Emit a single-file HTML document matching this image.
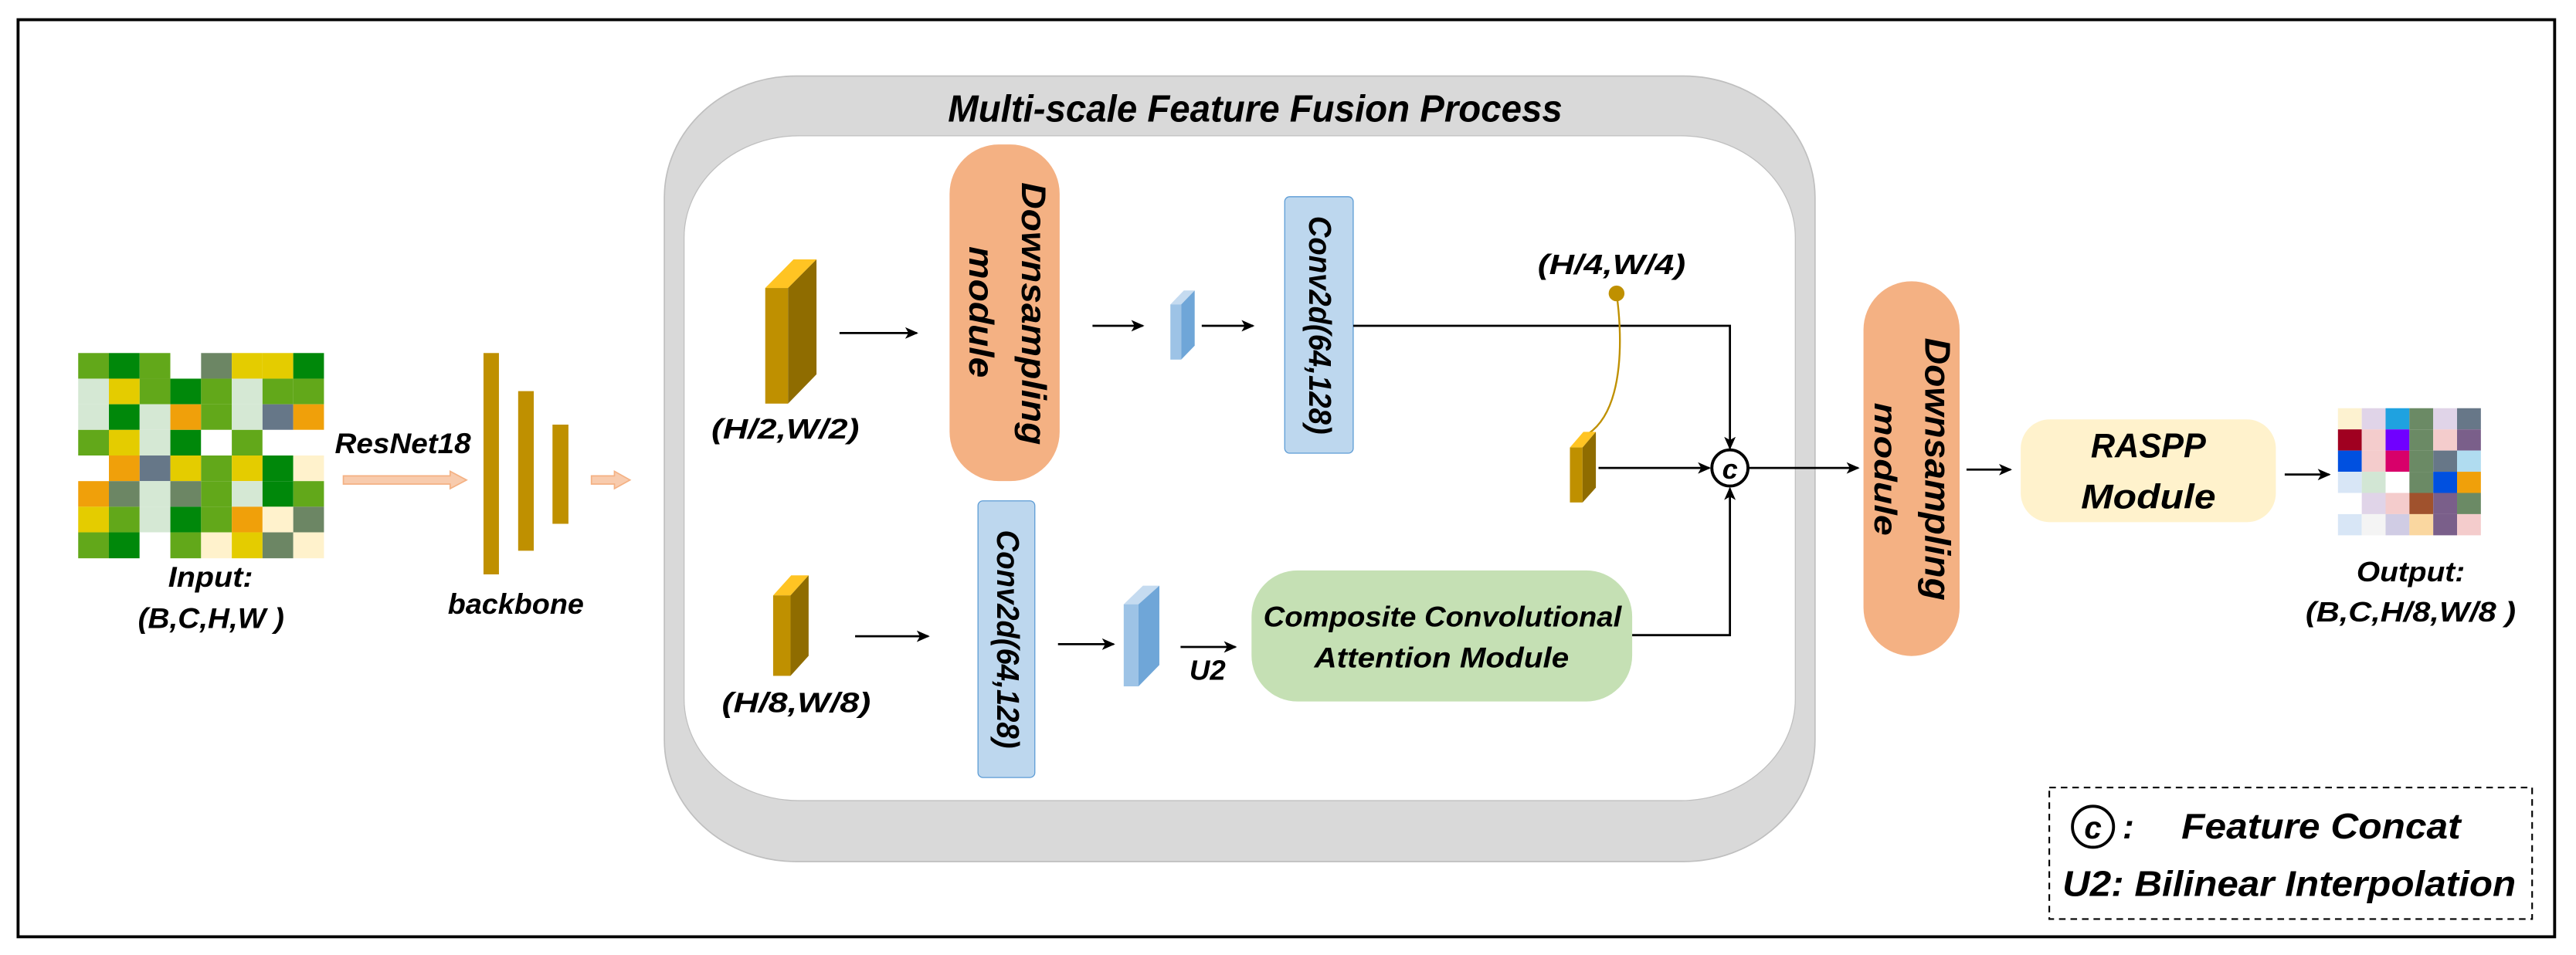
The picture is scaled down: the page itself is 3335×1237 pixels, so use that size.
<!DOCTYPE html>
<html><head><meta charset="utf-8"><style>
html,body{margin:0;padding:0;background:#fff;}
svg{display:block;}
text{font-family:"Liberation Sans",sans-serif;font-weight:bold;font-style:italic;fill:#000;}
</style></head><body>
<svg width="3335" height="1237" viewBox="0 0 1568 581.6" preserveAspectRatio="none" xmlns="http://www.w3.org/2000/svg">
<defs>
<marker id="ah" markerWidth="8" markerHeight="8" refX="7" refY="4" orient="auto" markerUnits="userSpaceOnUse">
<path d="M0,0.5 L8,4 L0,7.5 L2,4 Z" fill="#000"/></marker>
</defs>
<rect width="1568" height="581.6" fill="#fff"/>
<rect x="11" y="12" width="1544" height="558.5" fill="none" stroke="#000" stroke-width="1.8"/>

<!-- input grid -->
<g id="grid"></g>
<g transform="translate(47.6,215)">
<!-- rows -->
<g id="ig"></g>
</g>

<!-- gray box -->
<rect x="404.4" y="46.3" width="700.4" height="478.4" rx="80" ry="74" fill="#d9d9d9" stroke="#bfbfbf" stroke-width="0.8"/>
<rect x="416.4" y="82.7" width="676.4" height="404.9" rx="70" ry="62" fill="#fff" stroke="#bfbfbf" stroke-width="0.6"/>
<text x="577" y="74" font-size="23" textLength="374" lengthAdjust="spacingAndGlyphs">Multi-scale Feature Fusion Process</text>

<!-- H/2 cube -->
<polygon points="465.8,175.4 483,158 497,158 479.7,175.4" fill="#ffc423"/>
<rect x="465.8" y="175.4" width="13.9" height="70.4" fill="#bf9000"/>
<polygon points="479.7,175.4 497,158 497,228 479.7,245.8" fill="#8f6c00"/>
<text x="433" y="267" font-size="17" textLength="90" lengthAdjust="spacingAndGlyphs">(H/2,W/2)</text>
<line x1="511" y1="202.8" x2="558" y2="202.8" stroke="#000" stroke-width="1.3" marker-end="url(#ah)"/>

<!-- Downsampling 1 -->
<rect x="578" y="88" width="67" height="205" rx="30" fill="#f4b183"/>
<text transform="translate(622,191) rotate(90)" font-size="21" text-anchor="middle" textLength="160" lengthAdjust="spacingAndGlyphs">Downsampling</text>
<text transform="translate(590,190) rotate(90)" font-size="21" text-anchor="middle" textLength="80" lengthAdjust="spacingAndGlyphs">module</text>

<line x1="665" y1="198.4" x2="695.6" y2="198.4" stroke="#000" stroke-width="1.3" marker-end="url(#ah)"/>
<polygon points="712.4,185.4 720.6,176.9 727.2,176.9 719,185.4" fill="#c5dbf0"/>
<rect x="712.4" y="185.4" width="6.6" height="33.6" fill="#9dc3e6"/>
<polygon points="719,185.4 727.2,176.9 727.2,210.5 719,219" fill="#6fa6d8"/>
<line x1="731.5" y1="198.4" x2="762.7" y2="198.4" stroke="#000" stroke-width="1.3" marker-end="url(#ah)"/>

<!-- Conv top -->
<rect x="782" y="119.8" width="41.7" height="156.2" rx="3" fill="#bdd7ee" stroke="#5b9bd5" stroke-width="0.6"/>
<text transform="translate(797,198) rotate(90)" font-size="19" text-anchor="middle" textLength="133" lengthAdjust="spacingAndGlyphs">Conv2d(64,128)</text>

<polyline points="823.7,198.4 1053,198.4 1053,273" fill="none" stroke="#000" stroke-width="1.3" marker-end="url(#ah)"/>
<text x="936" y="166.9" font-size="17" textLength="90" lengthAdjust="spacingAndGlyphs">(H/4,W/4)</text>
<circle cx="984" cy="178.7" r="4.8" fill="#bf9000"/>
<path d="M984,179 C987,200 990,248 967,264" fill="none" stroke="#bf9000" stroke-width="1.1"/>
<polygon points="955.6,272.5 963.8,263 971.4,263 963.3,272.5" fill="#ffc423"/>
<rect x="955.6" y="272.5" width="7.7" height="33.5" fill="#bf9000"/>
<polygon points="963.3,272.5 971.4,263 971.4,297 963.3,306" fill="#8f6c00"/>
<line x1="973" y1="285" x2="1040.5" y2="285" stroke="#000" stroke-width="1.3" marker-end="url(#ah)"/>
<circle cx="1053" cy="285" r="11" fill="#fff" stroke="#000" stroke-width="1.8"/>
<text x="1053" y="291.5" font-size="17" text-anchor="middle">c</text>
<line x1="1064" y1="285" x2="1131" y2="285" stroke="#000" stroke-width="1.3" marker-end="url(#ah)"/>

<!-- lower -->
<polygon points="470.6,362.6 481.6,350.4 492.2,350.4 481.2,362.6" fill="#ffc423"/>
<rect x="470.6" y="362.6" width="10.6" height="49" fill="#bf9000"/>
<polygon points="481.2,362.6 492.2,350.4 492.2,399.4 481.2,411.6" fill="#8f6c00"/>
<text x="439.4" y="433.8" font-size="17" textLength="90.6" lengthAdjust="spacingAndGlyphs">(H/8,W/8)</text>
<line x1="520.5" y1="387.5" x2="565" y2="387.5" stroke="#000" stroke-width="1.3" marker-end="url(#ah)"/>
<rect x="595.3" y="305" width="34.6" height="168.5" rx="3" fill="#bdd7ee" stroke="#5b9bd5" stroke-width="0.6"/>
<text transform="translate(607,389.3) rotate(90)" font-size="19" text-anchor="middle" textLength="133" lengthAdjust="spacingAndGlyphs">Conv2d(64,128)</text>
<line x1="644" y1="392.3" x2="677.8" y2="392.3" stroke="#000" stroke-width="1.3" marker-end="url(#ah)"/>
<polygon points="684,368 695.7,356.7 705.7,356.7 693,368" fill="#c5dbf0"/>
<rect x="684" y="368" width="9" height="50" fill="#9dc3e6"/>
<polygon points="693,368 705.7,356.7 705.7,405 693,418" fill="#6fa6d8"/>
<line x1="718.6" y1="394" x2="752" y2="394" stroke="#000" stroke-width="1.3" marker-end="url(#ah)"/>
<text x="724" y="414" font-size="17" textLength="22" lengthAdjust="spacingAndGlyphs">U2</text>
<rect x="761.8" y="347.4" width="231.7" height="79.8" rx="28" fill="#c5e0b4"/>
<text x="769" y="381.5" font-size="17.5" textLength="218" lengthAdjust="spacingAndGlyphs">Composite Convolutional</text>
<text x="800" y="406.4" font-size="17.5" textLength="155" lengthAdjust="spacingAndGlyphs">Attention Module</text>
<polyline points="993.5,386.8 1053,386.8 1053,297.5" fill="none" stroke="#000" stroke-width="1.3" marker-end="url(#ah)"/>

<!-- Downsampling 2 -->
<rect x="1134.3" y="171.3" width="58.5" height="228.2" rx="29.5" fill="#f4b183"/>
<text transform="translate(1172,285.7) rotate(90)" font-size="22" text-anchor="middle" textLength="160" lengthAdjust="spacingAndGlyphs">Downsampling</text>
<text transform="translate(1141,285.7) rotate(90)" font-size="19" text-anchor="middle" textLength="81" lengthAdjust="spacingAndGlyphs">module</text>
<line x1="1197" y1="286" x2="1223.8" y2="286" stroke="#000" stroke-width="1.3" marker-end="url(#ah)"/>

<rect x="1230" y="255.4" width="155.3" height="62.6" rx="17.7" fill="#fff2cc"/>
<text x="1307.7" y="278.5" font-size="21" text-anchor="middle" textLength="70" lengthAdjust="spacingAndGlyphs">RASPP</text>
<text x="1307.7" y="309.5" font-size="21" text-anchor="middle" textLength="82" lengthAdjust="spacingAndGlyphs">Module</text>
<line x1="1390.7" y1="289" x2="1417.8" y2="289" stroke="#000" stroke-width="1.3" marker-end="url(#ah)"/>

<!-- output grid -->
<g transform="translate(1423.1,248.6)">
<rect x="0" y="0" width="14.5" height="12.9" fill="#fdf2d0"/><rect x="14.5" y="0" width="14.5" height="12.9" fill="#e0d4e8"/><rect x="29" y="0" width="14.5" height="12.9" fill="#1fa2e0"/><rect x="43.5" y="0" width="14.5" height="12.9" fill="#6b8a65"/><rect x="58" y="0" width="14.5" height="12.9" fill="#e0d4e8"/><rect x="72.5" y="0" width="14.5" height="12.9" fill="#677788"/>
<rect x="0" y="12.9" width="14.5" height="12.9" fill="#a00020"/><rect x="14.5" y="12.9" width="14.5" height="12.9" fill="#f4cccc"/><rect x="29" y="12.9" width="14.5" height="12.9" fill="#7000ff"/><rect x="43.5" y="12.9" width="14.5" height="12.9" fill="#6b8a65"/><rect x="58" y="12.9" width="14.5" height="12.9" fill="#f4cccc"/><rect x="72.5" y="12.9" width="14.5" height="12.9" fill="#7a5f8a"/>
<rect x="0" y="25.8" width="14.5" height="12.9" fill="#0050e0"/><rect x="14.5" y="25.8" width="14.5" height="12.9" fill="#f4cccc"/><rect x="29" y="25.8" width="14.5" height="12.9" fill="#d8006a"/><rect x="43.5" y="25.8" width="14.5" height="12.9" fill="#6b8a65"/><rect x="58" y="25.8" width="14.5" height="12.9" fill="#677788"/><rect x="72.5" y="25.8" width="14.5" height="12.9" fill="#b0dcf0"/>
<rect x="0" y="38.7" width="14.5" height="12.9" fill="#d8e6f6"/><rect x="14.5" y="38.7" width="14.5" height="12.9" fill="#d2e6d4"/><rect x="29" y="38.7" width="14.5" height="12.9" fill="#ffffff"/><rect x="43.5" y="38.7" width="14.5" height="12.9" fill="#6b8a65"/><rect x="58" y="38.7" width="14.5" height="12.9" fill="#0050e0"/><rect x="72.5" y="38.7" width="14.5" height="12.9" fill="#f0a00a"/>
<rect x="0" y="51.6" width="14.5" height="12.9" fill="#ffffff"/><rect x="14.5" y="51.6" width="14.5" height="12.9" fill="#e0d4e8"/><rect x="29" y="51.6" width="14.5" height="12.9" fill="#f4cccc"/><rect x="43.5" y="51.6" width="14.5" height="12.9" fill="#a0522d"/><rect x="58" y="51.6" width="14.5" height="12.9" fill="#7a5f8a"/><rect x="72.5" y="51.6" width="14.5" height="12.9" fill="#6b8a65"/>
<rect x="0" y="64.5" width="14.5" height="12.9" fill="#d8e6f6"/><rect x="14.5" y="64.5" width="14.5" height="12.9" fill="#f4f4f4"/><rect x="29" y="64.5" width="14.5" height="12.9" fill="#d0cce4"/><rect x="43.5" y="64.5" width="14.5" height="12.9" fill="#fad7a0"/><rect x="58" y="64.5" width="14.5" height="12.9" fill="#7a5f8a"/><rect x="72.5" y="64.5" width="14.5" height="12.9" fill="#f4cccc"/>
</g>
<text x="1467.4" y="354" font-size="17" text-anchor="middle" textLength="66" lengthAdjust="spacingAndGlyphs">Output:</text>
<text x="1467.4" y="378.5" font-size="17" text-anchor="middle" textLength="128" lengthAdjust="spacingAndGlyphs">(B,C,H/8,W/8 )</text>

<!-- legend -->
<rect x="1247.4" y="479.6" width="293.9" height="80.1" fill="none" stroke="#000" stroke-width="1" stroke-dasharray="4,3"/>
<circle cx="1274" cy="503.5" r="12.5" fill="none" stroke="#000" stroke-width="1.8"/>
<text x="1274" y="510.5" font-size="19" text-anchor="middle">c</text>
<text x="1292" y="510.5" font-size="21">:</text>
<text x="1327.8" y="510.5" font-size="22" textLength="170" lengthAdjust="spacingAndGlyphs">Feature  Concat</text>
<text x="1255.4" y="545.6" font-size="22" textLength="276" lengthAdjust="spacingAndGlyphs">U2: Bilinear Interpolation</text>

<!-- left part -->
<g transform="translate(47.6,215)">
<rect x="0" y="0" width="18.7" height="15.6" fill="#62a81a"/><rect x="18.7" y="0" width="18.7" height="15.6" fill="#00880a"/><rect x="37.4" y="0" width="18.7" height="15.6" fill="#62a81a"/><rect x="56.1" y="0" width="18.7" height="15.6" fill="#ffffff"/><rect x="74.8" y="0" width="18.7" height="15.6" fill="#6c8664"/><rect x="93.5" y="0" width="18.7" height="15.6" fill="#e4cc00"/><rect x="112.2" y="0" width="18.7" height="15.6" fill="#e4cc00"/><rect x="130.9" y="0" width="18.7" height="15.6" fill="#00880a"/>
<rect x="0" y="15.6" width="18.7" height="15.6" fill="#d5e8d4"/><rect x="18.7" y="15.6" width="18.7" height="15.6" fill="#e4cc00"/><rect x="37.4" y="15.6" width="18.7" height="15.6" fill="#62a81a"/><rect x="56.1" y="15.6" width="18.7" height="15.6" fill="#00880a"/><rect x="74.8" y="15.6" width="18.7" height="15.6" fill="#62a81a"/><rect x="93.5" y="15.6" width="18.7" height="15.6" fill="#d5e8d4"/><rect x="112.2" y="15.6" width="18.7" height="15.6" fill="#62a81a"/><rect x="130.9" y="15.6" width="18.7" height="15.6" fill="#62a81a"/>
<rect x="0" y="31.2" width="18.7" height="15.6" fill="#d5e8d4"/><rect x="18.7" y="31.2" width="18.7" height="15.6" fill="#00880a"/><rect x="37.4" y="31.2" width="18.7" height="15.6" fill="#d5e8d4"/><rect x="56.1" y="31.2" width="18.7" height="15.6" fill="#f0a00a"/><rect x="74.8" y="31.2" width="18.7" height="15.6" fill="#62a81a"/><rect x="93.5" y="31.2" width="18.7" height="15.6" fill="#d5e8d4"/><rect x="112.2" y="31.2" width="18.7" height="15.6" fill="#667788"/><rect x="130.9" y="31.2" width="18.7" height="15.6" fill="#f0a00a"/>
<rect x="0" y="46.8" width="18.7" height="15.6" fill="#62a81a"/><rect x="18.7" y="46.8" width="18.7" height="15.6" fill="#e4cc00"/><rect x="37.4" y="46.8" width="18.7" height="15.6" fill="#d5e8d4"/><rect x="56.1" y="46.8" width="18.7" height="15.6" fill="#00880a"/><rect x="74.8" y="46.8" width="18.7" height="15.6" fill="#ffffff"/><rect x="93.5" y="46.8" width="18.7" height="15.6" fill="#62a81a"/><rect x="112.2" y="46.8" width="18.7" height="15.6" fill="#ffffff"/><rect x="130.9" y="46.8" width="18.7" height="15.6" fill="#ffffff"/>
<rect x="0" y="62.4" width="18.7" height="15.6" fill="#ffffff"/><rect x="18.7" y="62.4" width="18.7" height="15.6" fill="#f0a00a"/><rect x="37.4" y="62.4" width="18.7" height="15.6" fill="#667788"/><rect x="56.1" y="62.4" width="18.7" height="15.6" fill="#e4cc00"/><rect x="74.8" y="62.4" width="18.7" height="15.6" fill="#62a81a"/><rect x="93.5" y="62.4" width="18.7" height="15.6" fill="#e4cc00"/><rect x="112.2" y="62.4" width="18.7" height="15.6" fill="#00880a"/><rect x="130.9" y="62.4" width="18.7" height="15.6" fill="#fff2cc"/>
<rect x="0" y="78" width="18.7" height="15.6" fill="#f0a00a"/><rect x="18.7" y="78" width="18.7" height="15.6" fill="#6c8664"/><rect x="37.4" y="78" width="18.7" height="15.6" fill="#d5e8d4"/><rect x="56.1" y="78" width="18.7" height="15.6" fill="#6c8664"/><rect x="74.8" y="78" width="18.7" height="15.6" fill="#62a81a"/><rect x="93.5" y="78" width="18.7" height="15.6" fill="#d5e8d4"/><rect x="112.2" y="78" width="18.7" height="15.6" fill="#00880a"/><rect x="130.9" y="78" width="18.7" height="15.6" fill="#62a81a"/>
<rect x="0" y="93.6" width="18.7" height="15.6" fill="#e4cc00"/><rect x="18.7" y="93.6" width="18.7" height="15.6" fill="#62a81a"/><rect x="37.4" y="93.6" width="18.7" height="15.6" fill="#d5e8d4"/><rect x="56.1" y="93.6" width="18.7" height="15.6" fill="#00880a"/><rect x="74.8" y="93.6" width="18.7" height="15.6" fill="#62a81a"/><rect x="93.5" y="93.6" width="18.7" height="15.6" fill="#f0a00a"/><rect x="112.2" y="93.6" width="18.7" height="15.6" fill="#fff2cc"/><rect x="130.9" y="93.6" width="18.7" height="15.6" fill="#6c8664"/>
<rect x="0" y="109.2" width="18.7" height="15.8" fill="#62a81a"/><rect x="18.7" y="109.2" width="18.7" height="15.8" fill="#00880a"/><rect x="37.4" y="109.2" width="18.7" height="15.8" fill="#ffffff"/><rect x="56.1" y="109.2" width="18.7" height="15.8" fill="#62a81a"/><rect x="74.8" y="109.2" width="18.7" height="15.8" fill="#fff2cc"/><rect x="93.5" y="109.2" width="18.7" height="15.8" fill="#e4cc00"/><rect x="112.2" y="109.2" width="18.7" height="15.8" fill="#6c8664"/><rect x="130.9" y="109.2" width="18.7" height="15.8" fill="#fff2cc"/>
</g>
<text x="203.8" y="275.9" font-size="17.5" textLength="82.8" lengthAdjust="spacingAndGlyphs">ResNet18</text>
<polygon points="209,289.8 274,289.8 274,287 284,292.3 274,297.6 274,294.8 209,294.8" fill="#f8cbad" stroke="#f4b183" stroke-width="0.8"/>
<rect x="294.3" y="215" width="9.4" height="134.8" fill="#bf9000"/>
<rect x="315.4" y="238.2" width="9.5" height="97.2" fill="#bf9000"/>
<rect x="336.3" y="258.6" width="9.7" height="60.4" fill="#bf9000"/>
<polygon points="360,289.8 374,289.8 374,287 383.5,292.3 374,297.6 374,294.8 360,294.8" fill="#f8cbad" stroke="#f4b183" stroke-width="0.8"/>
<text x="272.6" y="373.8" font-size="17.5" textLength="82.8" lengthAdjust="spacingAndGlyphs">backbone</text>
<text x="102.4" y="357.3" font-size="17.5" textLength="51.6" lengthAdjust="spacingAndGlyphs">Input:</text>
<text x="84" y="382.4" font-size="17.5" textLength="89" lengthAdjust="spacingAndGlyphs">(B,C,H,W )</text>
</svg>
</body></html>
